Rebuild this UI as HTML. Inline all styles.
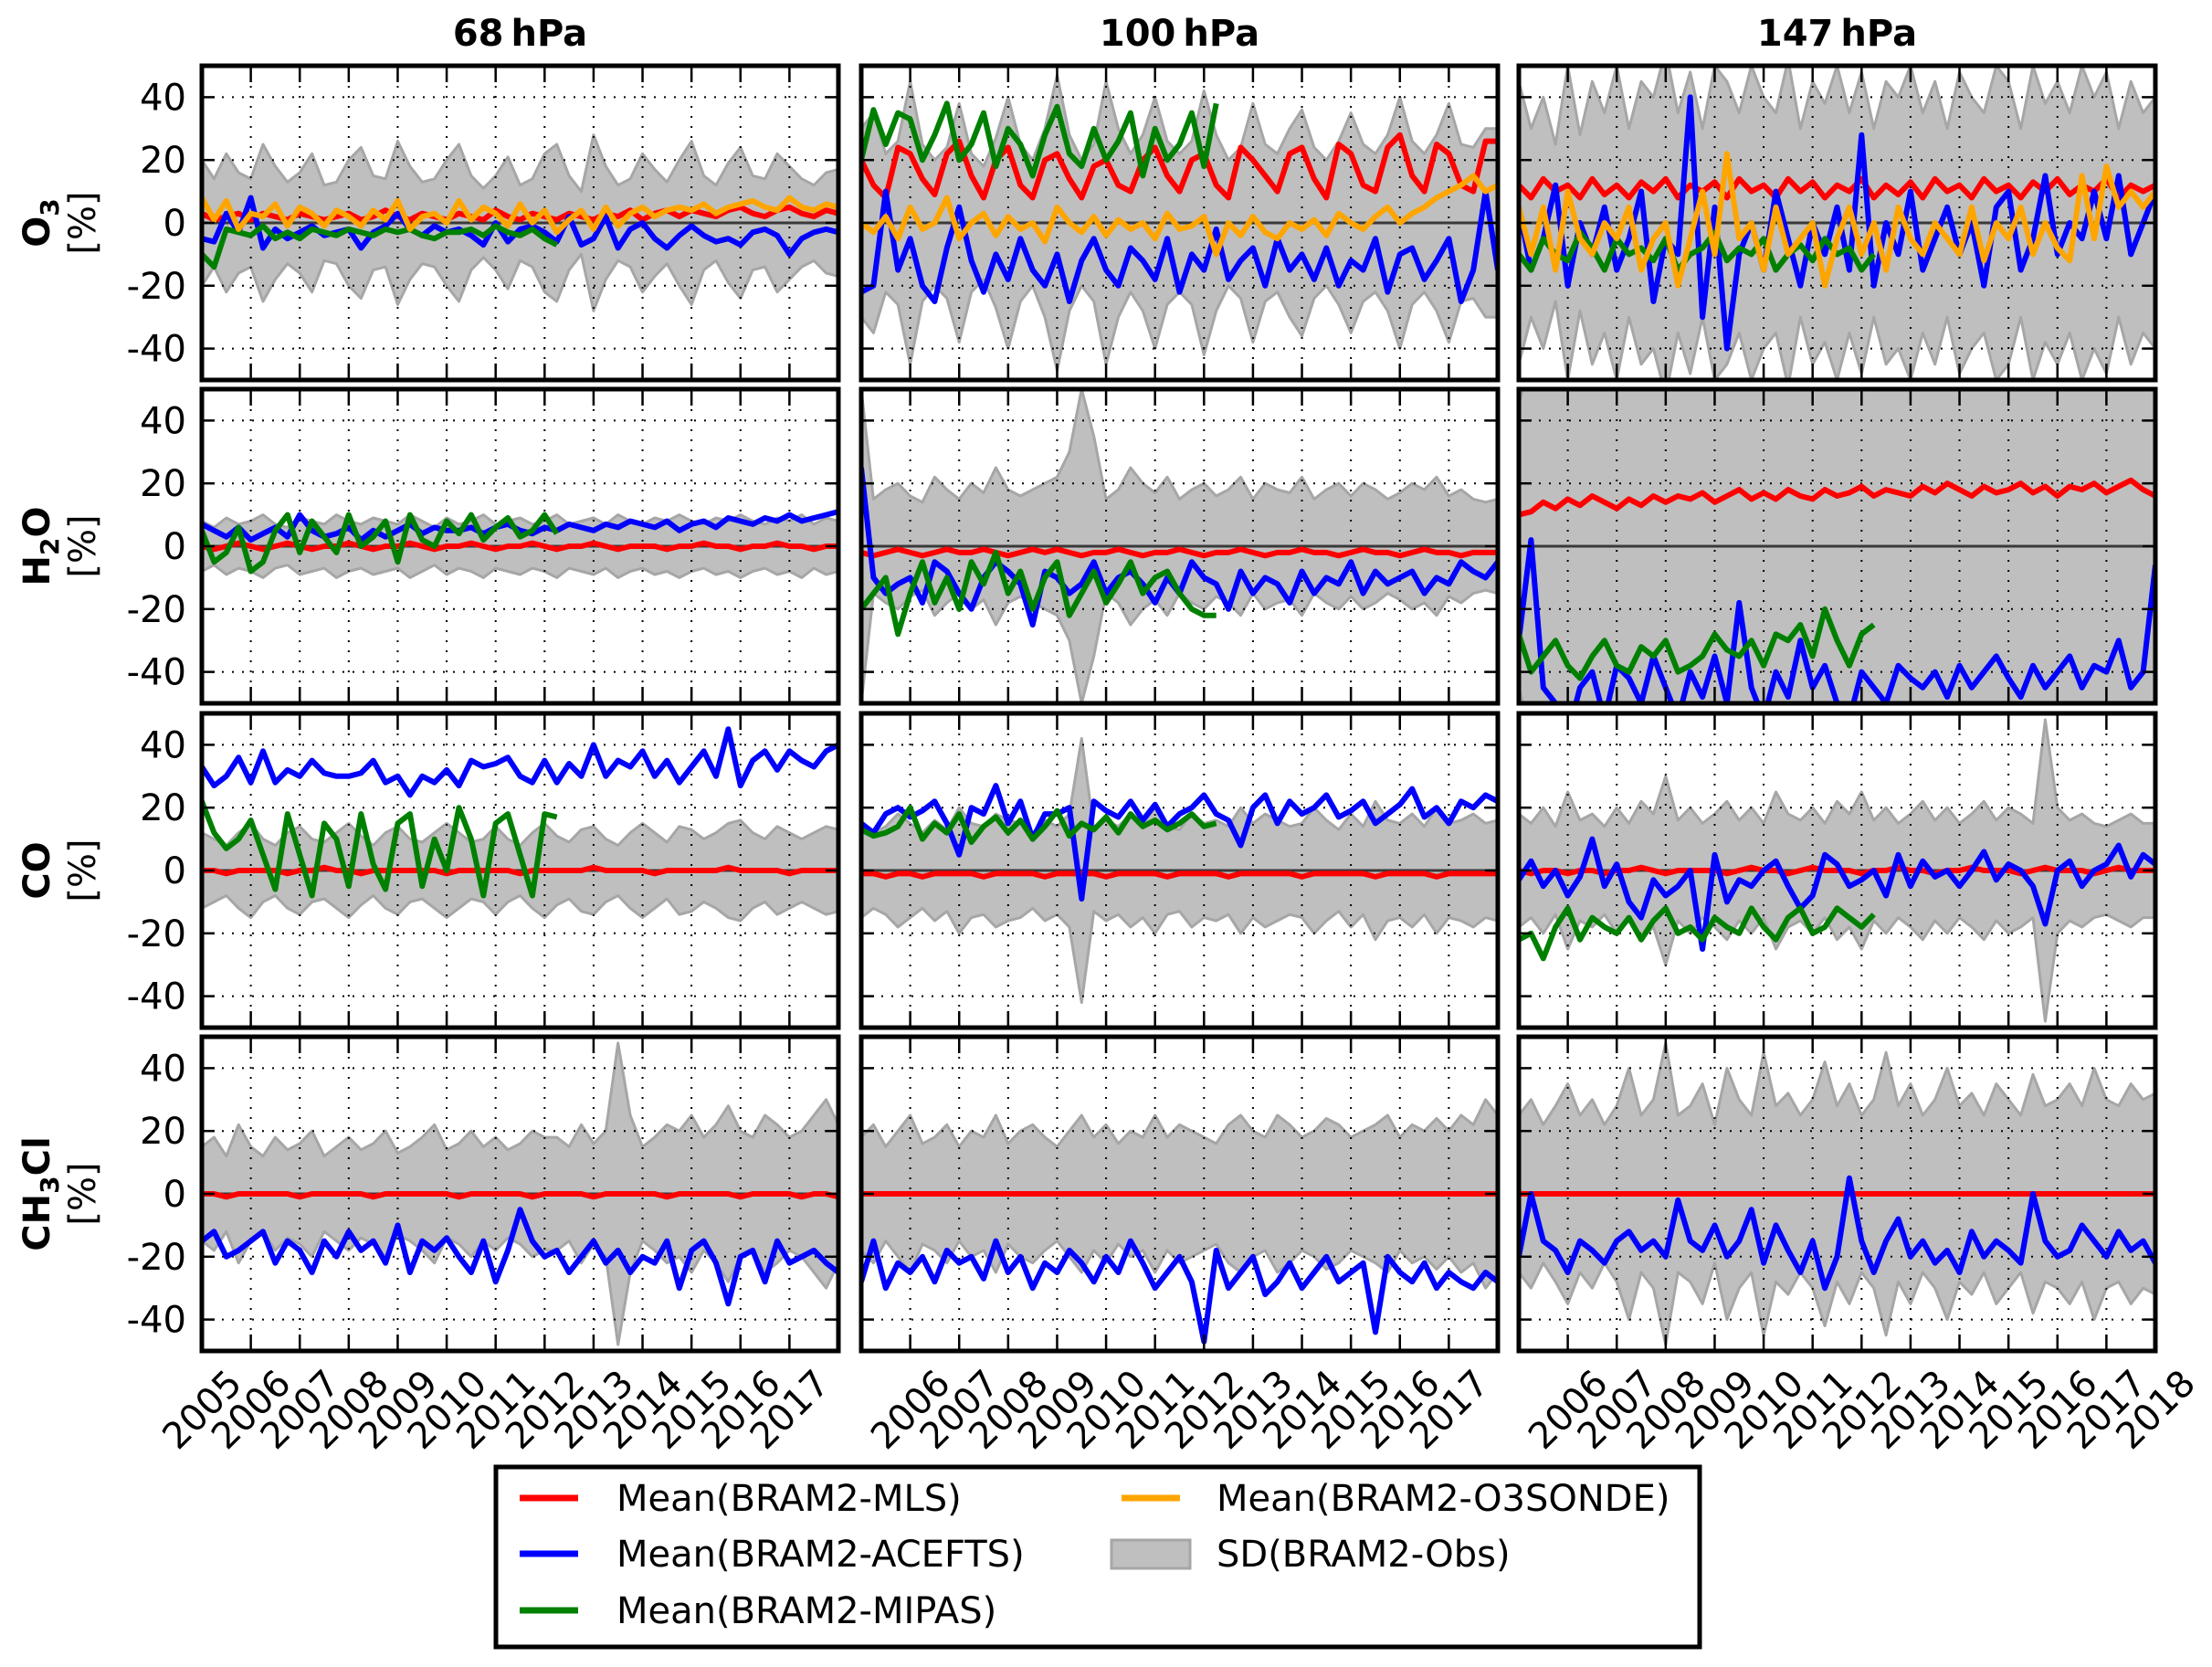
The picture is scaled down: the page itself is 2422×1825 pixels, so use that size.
<!DOCTYPE html>
<html><head><meta charset="utf-8">
<style>
html,body{margin:0;padding:0;background:#fff;}
svg{display:block;font-family:"DejaVu Sans","Liberation Sans",sans-serif;}
</style></head>
<body>
<svg id="chart" xmlns="http://www.w3.org/2000/svg" width="2422" height="1825" viewBox="0 0 2422 1825">
<rect x="0" y="0" width="2422" height="1825" fill="#fff"/>
<g id="panels"></g>
<g id="legend">
  <rect x="543" y="1606" width="1318" height="197" fill="#fff" stroke="#000" stroke-width="5"/>
  <line x1="569" y1="1640" x2="633" y2="1640" stroke="#ff0000" stroke-width="7"/>
  <text x="675" y="1654" font-size="40">Mean(BRAM2-MLS)</text>
  <line x1="569" y1="1701" x2="633" y2="1701" stroke="#0000ff" stroke-width="7"/>
  <text x="675" y="1715" font-size="40">Mean(BRAM2-ACEFTS)</text>
  <line x1="569" y1="1763" x2="633" y2="1763" stroke="#008000" stroke-width="7"/>
  <text x="675" y="1777" font-size="40">Mean(BRAM2-MIPAS)</text>
  <line x1="1228" y1="1640" x2="1292" y2="1640" stroke="#ffa500" stroke-width="7"/>
  <text x="1332" y="1654" font-size="40">Mean(BRAM2-O3SONDE)</text>
  <rect x="1217" y="1686" width="86" height="31" fill="#bfbfbf" stroke="#a6a6a6" stroke-width="3"/>
  <text x="1332" y="1715" font-size="40">SD(BRAM2-Obs)</text>
</g>
</svg>
<script>
// ---- data (quarterly values from 2005.0, step 0.25 yr) ----
const T0 = 2005, STEP = 0.25;
const columnTitles = ["68\u2009hPa", "100\u2009hPa", "147\u2009hPa"];
const rowSpecies = ["O3", "H2O", "CO", "CH3Cl"];
const yTicks = [-40, -20, 0, 20, 40];
const xLabelsCol1 = [2005,2006,2007,2008,2009,2010,2011,2012,2013,2014,2015,2016,2017];
const xLabelsCol2 = [2006,2007,2008,2009,2010,2011,2012,2013,2014,2015,2016,2017];
const xLabelsCol3 = [2006,2007,2008,2009,2010,2011,2012,2013,2014,2015,2016,2017,2018];

// O3 68 hPa
const o3_68_sd = [20,14,22,16,14,25,18,13,16,22,12,13,20,24,15,14,26,18,13,14,20,25,15,11,15,21,12,14,22,25,15,10,28,18,12,14,22,17,13,20,26,15,12,19,24,15,14,22,18,14,12,16,17];
const o3_68_mls = [3,1,2,3,1,3,2,1,3,2,1,2,3,1,2,4,2,1,3,2,1,3,2,1,4,2,1,3,2,1,3,2,1,3,2,4,1,3,4,2,4,3,2,4,5,3,2,4,5,3,2,4,3];
const o3_68_ace = [-5,-6,3,-3,8,-8,-2,-5,-3,-1,-4,-3,-2,-8,-3,-1,3,-2,-4,-1,-3,-2,-4,-7,0,-6,-2,-1,-3,-6,2,-7,-5,2,-8,-2,0,-5,-8,-4,-1,-4,-6,-5,-7,-3,-2,-4,-10,-5,-3,-2,-3];
const o3_68_mip = [-10,-14,-2,-3,-4,-1,-5,-3,-5,-2,-3,-4,-2,-3,-4,-2,-3,-2,-4,-5,-3,-3,-2,-4,-1,-3,-4,-2,-5,-7];
const o3_68_son = [8,1,7,-2,3,2,6,-1,5,3,-1,4,2,-1,4,1,7,-2,2,3,0,7,1,5,3,-1,6,0,4,-3,1,4,-2,5,-1,3,5,2,4,5,4,6,3,5,6,7,5,4,8,5,4,6,5];
// O3 100 hPa
const o3_100_sd = [30,35,22,26,45,25,20,24,38,22,18,27,40,25,20,30,47,28,20,25,45,30,22,28,40,26,22,26,42,28,20,24,38,25,22,30,36,24,20,26,35,25,22,28,40,26,22,28,38,25,24,30,30];
const o3_100_mls = [20,12,8,24,22,14,9,22,26,15,8,20,24,12,8,20,22,14,8,18,20,12,10,20,24,15,10,20,22,12,8,24,20,15,10,22,24,14,8,25,22,12,10,24,28,15,10,25,22,12,10,26,26];
const o3_100_ace = [-22,-20,10,-15,-5,-20,-25,-8,5,-12,-22,-10,-18,-5,-15,-20,-10,-25,-12,-5,-15,-20,-8,-12,-18,-5,-22,-10,-15,-2,-18,-12,-8,-20,-5,-15,-10,-18,-8,-20,-12,-15,-5,-22,-10,-8,-18,-12,-5,-25,-15,10,-15];
const o3_100_mip = [20,36,25,35,33,20,28,38,20,25,35,18,30,25,15,28,37,22,18,30,20,26,35,15,30,20,25,35,18,38];
const o3_100_son = [0,-3,2,-5,5,-2,0,8,-5,0,3,-4,2,-2,0,-6,5,0,-3,2,-4,1,-2,0,-5,3,-2,-1,2,-10,0,-4,2,-3,-5,0,-2,1,-4,3,0,-2,2,5,0,3,5,8,10,12,15,10,12];
// O3 147 hPa
const o3_147_sd = [45,30,40,25,50,28,45,35,50,30,45,40,55,35,48,30,50,45,35,50,40,35,52,30,45,38,50,35,48,30,45,40,50,35,45,30,48,40,35,50,45,30,50,38,45,35,50,40,48,30,45,35,40];
const o3_147_mls = [12,8,14,10,12,8,14,9,12,8,13,10,14,8,12,10,13,8,14,10,12,8,14,10,13,8,12,10,14,8,12,9,13,8,14,10,12,8,14,10,12,8,13,10,14,9,12,10,14,8,12,10,12];
const o3_147_ace = [5,-15,-5,12,-20,0,-10,5,-15,-5,10,-25,-5,-10,40,-30,5,-40,-10,0,-15,10,-5,-20,0,-10,5,-15,28,-20,0,-10,10,-15,-5,5,-10,0,-20,5,10,-15,-5,15,-10,0,-5,10,-5,15,-10,0,10];
const o3_147_mip = [-10,-15,-5,-10,-12,-3,-8,-15,-5,-10,-8,-12,-5,-15,-10,-8,-3,-12,-8,-10,-5,-15,-10,-7,-12,-5,-10,-8,-15,-10];
const o3_147_son = [5,-10,5,-15,10,-5,-10,0,-5,5,-15,-5,0,-20,-5,10,-10,22,-5,0,-15,5,-10,-5,0,-20,-5,5,-10,0,-15,5,-5,-10,0,-5,-10,5,-12,0,-5,5,-10,0,-8,-12,15,-5,18,5,10,5,10];
// H2O 68 hPa
const h2o_68_sd = [8,6,9,7,8,10,7,6,9,8,7,10,8,7,9,8,7,10,8,6,9,7,8,10,7,8,9,7,8,10,7,8,9,7,10,8,7,9,8,10,8,7,9,8,10,8,7,9,8,10,7,9,8];
const h2o_68_mls = [0,-1,0,1,0,-1,0,1,0,-1,0,0,1,0,-1,0,0,1,0,-1,0,0,1,0,-1,0,0,1,0,-1,0,0,1,0,-1,0,0,0,-1,0,0,1,0,0,-1,0,0,1,0,0,-1,0,0];
const h2o_68_ace = [7,5,3,6,2,4,6,3,10,5,3,4,6,2,5,3,5,7,4,6,5,5,6,4,6,7,5,4,6,5,7,6,5,7,6,8,7,6,8,5,7,8,6,9,8,7,9,8,10,8,9,10,11];
const h2o_68_mip = [5,-5,-2,6,-8,-5,5,10,-2,8,3,-2,10,0,3,8,-5,10,2,0,8,4,10,2,6,9,3,5,10,4];
// H2O 100 hPa
const h2o_100_sd = [50,15,18,20,16,14,22,18,15,20,17,25,18,16,18,20,22,30,50,35,15,18,25,20,17,22,15,18,20,16,18,22,15,20,18,17,22,15,18,20,16,20,18,15,17,20,18,22,16,18,15,14,15];
const h2o_100_mls = [-2,-3,-2,-1,-2,-3,-2,-1,-2,-2,-1,-2,-3,-2,-1,-2,-1,-2,-3,-2,-2,-1,-2,-3,-2,-2,-1,-2,-3,-2,-2,-1,-2,-3,-2,-2,-1,-2,-2,-3,-2,-1,-2,-2,-3,-2,-1,-2,-2,-3,-2,-2,-2];
const h2o_100_ace = [25,-10,-15,-12,-10,-18,-5,-8,-15,-20,-10,-5,-8,-12,-25,-8,-10,-15,-12,-5,-15,-10,-8,-12,-18,-10,-15,-5,-10,-12,-20,-8,-15,-10,-12,-18,-8,-15,-10,-12,-5,-15,-8,-12,-10,-8,-15,-10,-12,-5,-8,-10,-5];
const h2o_100_mip = [-20,-15,-10,-28,-15,-5,-18,-10,-20,-5,-12,-2,-15,-8,-20,-10,-5,-22,-15,-8,-18,-12,-5,-15,-10,-8,-15,-20,-22,-22];
// H2O 147 hPa
const h2o_147_sd = [45,60,55,60,50,60,58,60,55,60,60,60,60,60,60,60,60,60,60,60,60,55,60,60,60,60,60,60,60,60,60,60,60,60,60,60,60,60,60,60,60,60,60,60,60,60,60,60,60,60,60,60,60];
const h2o_147_mls = [10,11,14,12,15,13,16,14,12,15,13,16,14,16,15,17,14,16,18,15,17,15,18,16,15,18,16,17,19,16,18,17,16,19,17,20,18,16,19,17,18,20,17,19,16,19,18,20,17,19,21,18,16];
const h2o_147_ace = [-30,2,-45,-50,-60,-45,-40,-55,-38,-42,-50,-35,-45,-55,-40,-48,-35,-50,-18,-45,-55,-40,-48,-30,-45,-38,-50,-55,-40,-45,-50,-38,-42,-45,-40,-48,-38,-45,-40,-35,-42,-48,-38,-45,-40,-35,-45,-38,-40,-30,-45,-40,-6];
const h2o_147_mip = [-28,-40,-35,-30,-38,-42,-35,-30,-38,-40,-32,-35,-30,-40,-38,-35,-28,-33,-35,-30,-38,-28,-30,-25,-35,-20,-30,-38,-28,-25];
// CO 68 hPa
const co_68_sd = [12,10,8,12,15,10,8,12,14,10,9,12,15,11,8,12,14,10,9,12,15,12,9,10,14,10,8,12,15,11,9,13,14,10,8,12,15,12,9,14,13,10,12,15,16,12,10,14,12,10,12,14,13];
const co_68_mls = [0,0,-1,0,0,0,0,-1,0,0,1,0,0,-1,0,0,0,0,0,0,-1,0,0,0,0,0,-1,0,0,0,0,0,1,0,0,0,0,-1,0,0,0,0,0,1,0,0,0,0,-1,0,0,0,0];
const co_68_ace = [33,27,30,36,28,38,28,32,30,35,31,30,30,31,35,28,30,24,30,28,32,27,35,33,34,36,30,28,35,28,34,30,40,30,35,33,38,30,35,28,33,38,30,45,27,35,38,32,38,35,33,38,40];
const co_68_mip = [22,12,7,10,16,5,-6,18,5,-8,15,10,-5,18,2,-6,15,18,-5,10,0,20,10,-8,15,18,5,-8,18,17];
// CO 100 hPa
const co_100_sd = [15,12,14,18,15,12,16,13,20,15,14,18,16,15,12,16,14,18,42,13,16,14,18,15,20,14,13,18,15,16,14,20,15,18,16,14,15,20,16,13,18,14,22,16,15,18,14,20,15,16,18,15,16];
const co_100_mls = [-1,-1,-2,-1,-1,-2,-1,-1,-1,-1,-2,-1,-1,-1,-1,-2,-1,-1,-1,-1,-2,-1,-1,-1,-1,-2,-1,-1,-1,-1,-2,-1,-1,-1,-1,-1,-2,-1,-1,-1,-1,-1,-2,-1,-1,-1,-1,-2,-1,-1,-1,-1,-1];
const co_100_ace = [15,12,18,20,17,19,22,15,5,20,18,27,15,22,10,18,18,20,-9,22,19,17,22,16,21,14,18,20,24,18,16,8,20,24,15,22,18,20,24,17,19,22,15,18,21,26,17,20,15,22,20,24,22];
const co_100_mip = [13,11,12,14,20,10,15,12,18,9,14,17,12,16,10,14,19,11,15,13,17,12,18,14,16,13,15,18,14,15];
// CO 147 hPa
const co_147_sd = [18,15,20,14,25,16,18,14,20,15,22,18,30,16,20,15,18,22,16,20,15,25,18,16,20,15,22,18,25,16,20,15,18,22,16,20,15,18,22,16,20,18,15,48,20,16,18,15,14,16,18,15,15];
const co_147_mls = [0,-1,0,0,-1,0,0,-1,0,0,1,0,-1,0,0,0,0,-1,0,1,0,0,-1,0,1,0,0,0,-1,0,0,1,0,0,-1,0,0,1,0,0,0,-1,0,1,0,0,0,-1,0,1,0,0,0];
const co_147_ace = [-3,3,-5,0,-8,-2,10,-5,2,-10,-15,-3,-8,-5,0,-25,5,-10,-3,-5,0,3,-5,-12,-8,5,2,-5,-3,0,-8,5,-5,3,-2,0,-5,0,6,-3,2,0,-5,-17,0,3,-5,0,2,8,-2,5,2];
const co_147_mip = [-22,-20,-28,-18,-12,-22,-15,-18,-20,-15,-22,-16,-12,-20,-18,-22,-15,-18,-20,-12,-18,-22,-15,-12,-20,-18,-12,-15,-18,-14];
// CH3Cl 68 hPa
const ch3cl_68_sd = [15,18,12,22,15,12,18,14,16,20,12,15,18,14,16,20,13,15,18,22,14,16,20,15,18,14,16,20,18,18,15,22,16,20,48,25,15,18,22,20,25,18,22,28,20,18,25,22,18,20,25,30,22];
const ch3cl_68_mls = [0,0,-1,0,0,0,0,0,-1,0,0,0,0,0,-1,0,0,0,0,0,0,-1,0,0,0,0,0,-1,0,0,0,0,-1,0,0,0,0,0,-1,0,0,0,0,0,-1,0,0,0,0,-1,0,0,-1];
const ch3cl_68_ace = [-15,-12,-20,-18,-15,-12,-22,-15,-18,-25,-15,-20,-12,-18,-15,-22,-10,-25,-15,-18,-14,-20,-25,-15,-28,-18,-5,-15,-20,-18,-25,-20,-15,-22,-18,-25,-20,-22,-15,-30,-18,-15,-22,-35,-20,-18,-28,-15,-22,-20,-18,-22,-25];
// CH3Cl 100 hPa
const ch3cl_100_sd = [18,22,15,20,25,16,18,22,15,20,18,25,16,20,22,18,15,20,25,18,22,16,20,18,25,18,22,20,18,16,22,25,20,18,25,22,18,20,24,22,18,20,22,25,18,22,20,24,20,25,22,30,25];
const ch3cl_100_mls = [0,0,0,0,0,0,0,0,0,0,0,0,0,0,0,0,0,0,0,0,0,0,0,0,0,0,0,0,0,0,0,0,0,0,0,0,0,0,0,0,0,0,0,0,0,0,0,0,0,0,0,0,0];
const ch3cl_100_ace = [-28,-15,-30,-22,-25,-20,-28,-18,-22,-20,-27,-15,-25,-20,-30,-22,-25,-18,-22,-28,-20,-25,-15,-22,-30,-25,-20,-28,-47,-18,-30,-25,-20,-32,-28,-22,-30,-25,-20,-28,-25,-22,-44,-20,-25,-28,-22,-30,-25,-28,-30,-25,-28];
// CH3Cl 147 hPa
const ch3cl_147_sd = [25,30,22,28,35,25,30,22,28,40,25,30,48,25,28,35,22,40,30,25,45,28,32,25,30,42,28,35,25,30,45,28,35,25,30,40,28,32,25,35,30,25,38,28,30,35,28,40,30,28,35,30,32];
const ch3cl_147_mls = [0,0,0,0,0,0,0,0,0,0,0,0,0,0,0,0,0,0,0,0,0,0,0,0,0,0,0,0,0,0,0,0,0,0,0,0,0,0,0,0,0,0,0,0,0,0,0,0,0,0,0,0,0];
const ch3cl_147_ace = [-20,0,-15,-18,-25,-15,-18,-22,-15,-12,-18,-15,-20,-2,-15,-18,-10,-20,-15,-5,-22,-10,-18,-25,-15,-30,-20,5,-15,-25,-15,-8,-20,-15,-22,-18,-25,-12,-20,-15,-18,-22,0,-15,-20,-18,-10,-15,-20,-12,-18,-15,-22];

const panelData = [
  [{sd:o3_68_sd,mls:o3_68_mls,ace:o3_68_ace,mip:o3_68_mip,son:o3_68_son},
   {sd:o3_100_sd,mls:o3_100_mls,ace:o3_100_ace,mip:o3_100_mip,son:o3_100_son},
   {sd:o3_147_sd,mls:o3_147_mls,ace:o3_147_ace,mip:o3_147_mip,son:o3_147_son}],
  [{sd:h2o_68_sd,mls:h2o_68_mls,ace:h2o_68_ace,mip:h2o_68_mip},
   {sd:h2o_100_sd,mls:h2o_100_mls,ace:h2o_100_ace,mip:h2o_100_mip},
   {sd:h2o_147_sd,mls:h2o_147_mls,ace:h2o_147_ace,mip:h2o_147_mip}],
  [{sd:co_68_sd,mls:co_68_mls,ace:co_68_ace,mip:co_68_mip},
   {sd:co_100_sd,mls:co_100_mls,ace:co_100_ace,mip:co_100_mip},
   {sd:co_147_sd,mls:co_147_mls,ace:co_147_ace,mip:co_147_mip}],
  [{sd:ch3cl_68_sd,mls:ch3cl_68_mls,ace:ch3cl_68_ace},
   {sd:ch3cl_100_sd,mls:ch3cl_100_mls,ace:ch3cl_100_ace},
   {sd:ch3cl_147_sd,mls:ch3cl_147_mls,ace:ch3cl_147_ace}]
];

// ---- layout ----
const NS = "http://www.w3.org/2000/svg";
const colX = [221, 943, 1663], PW = 697;
const rowY = [72, 426, 781, 1135], PH = 344;
const X0 = 2005, X1 = 2018, Y0 = -50, Y1 = 50;
const root = document.getElementById('panels');
function mk(tag, attrs, parent) {
  const e = document.createElementNS(NS, tag);
  for (const k in attrs) e.setAttribute(k, attrs[k]);
  (parent || root).appendChild(e);
  return e;
}
const seriesStyle = {mls:"#ff0000", ace:"#0000ff", mip:"#008000", son:"#ffa500"};
const seriesNames = {mls:"mls-line", ace:"acefts-line", mip:"mipas-line", son:"o3sonde-line"};
const xLabelSets = [xLabelsCol1, xLabelsCol2, xLabelsCol3];

for (let r = 0; r < 4; r++) {
  for (let c = 0; c < 3; c++) {
    const px = colX[c], py = rowY[r];
    const sx = v => px + (v - X0) / (X1 - X0) * PW;
    const sy = v => py + (Y1 - v) / (Y1 - Y0) * PH;
    const tOf = i => T0 + i * STEP;
    const g = mk('g', {});
    
    
    const cid = 'clip' + r + c;
    const cp = mk('clipPath', {id: cid}, g);
    mk('rect', {x: px, y: py, width: PW, height: PH}, cp);
    const inner = mk('g', {'clip-path': 'url(#' + cid + ')'}, g);
    
    
    const d = panelData[r][c];
    let up = [], lo = [];
    d.sd.forEach((v, i) => { up.push(sx(tOf(i)).toFixed(1) + ',' + sy(v).toFixed(1)); lo.push(sx(tOf(i)).toFixed(1) + ',' + sy(-v).toFixed(1)); });
    const band = mk('polygon', {points: up.concat(lo.reverse()).join(' '), fill: '#bfbfbf', stroke: '#a6a6a6', 'stroke-width': 3, 'stroke-linejoin': 'round'}, inner);
    
    
    for (let yv of yTicks) {
      if (yv === 0) continue;
      const gl = mk('line', {x1: px, x2: px + PW, y1: sy(yv), y2: sy(yv), stroke: '#000', 'stroke-width': 2, 'stroke-dasharray': '2,9'}, inner);
      
      
    }
    for (let yr = X0 + 1; yr < X1; yr++) {
      const gl = mk('line', {x1: sx(yr), x2: sx(yr), y1: py, y2: py + PH, stroke: '#000', 'stroke-width': 2, 'stroke-dasharray': '2,9'}, inner);
      
      
    }
    const zl = mk('line', {x1: px, x2: px + PW, y1: sy(0), y2: sy(0), stroke: '#3a3a3a', 'stroke-width': 3}, inner);
    
    
    for (const k of ['mls', 'ace', 'mip', 'son']) {
      if (!d[k]) continue;
      const pts = d[k].map((v, i) => sx(tOf(i)).toFixed(1) + ',' + sy(v).toFixed(1)).join(' ');
      const pl = mk('polyline', {points: pts, fill: 'none', stroke: seriesStyle[k], 'stroke-width': 6, 'stroke-linejoin': 'round'}, inner);
      
      
    }
    for (let yr = X0 + 1; yr < X1; yr++) {
      mk('line', {x1: sx(yr), x2: sx(yr), y1: py + PH, y2: py + PH - 18, stroke: '#000', 'stroke-width': 2.5}, g);
      mk('line', {x1: sx(yr), x2: sx(yr), y1: py, y2: py + 18, stroke: '#000', 'stroke-width': 2.5}, g);
    }
    for (let yv of yTicks) {
      mk('line', {x1: px, x2: px + 14, y1: sy(yv), y2: sy(yv), stroke: '#000', 'stroke-width': 2.5}, g);
      mk('line', {x1: px + PW - 14, x2: px + PW, y1: sy(yv), y2: sy(yv), stroke: '#000', 'stroke-width': 2.5}, g);
    }
    const fr = mk('rect', {x: px, y: py, width: PW, height: PH, fill: 'none', stroke: '#000', 'stroke-width': 5}, g);
    
    
    if (c === 0) {
      for (let yv of yTicks) {
        const tl = mk('text', {x: 204, y: sy(yv) + 14, 'font-size': 40, 'text-anchor': 'end'}, g);
        tl.textContent = String(yv);
        
        
      }
    }
    if (r === 3) {
      for (let yr of xLabelSets[c]) {
        const cx = sx(yr), cy = 1543;
        const tl = mk('text', {x: cx, y: cy + 14, 'font-size': 40, 'text-anchor': 'middle', transform: 'rotate(-45 ' + cx + ' ' + cy + ')'}, g);
        tl.textContent = String(yr);
        
        
      }
    }
    if (r === 0) {
      const tt = mk('text', {x: px + PW / 2, y: 50, 'font-size': 40, 'font-weight': 'bold', 'text-anchor': 'middle'}, g);
      tt.textContent = columnTitles[c];
      
      
    }
  }
}
const rowLabelHTML = [
  ['O', '3', ''], ['H', '2', 'O'], ['CO', '', ''], ['CH', '3', 'Cl']
];
for (let r = 0; r < 4; r++) {
  const cy = rowY[r] + PH / 2;
  const t = mk('text', {x: 0, y: 0, 'font-size': 40, 'font-weight': 'bold', 'text-anchor': 'middle', transform: 'translate(54 ' + cy + ') rotate(-90)'});
  
  
  const [a, b, cc] = rowLabelHTML[r];
  const s1 = mk('tspan', {}, t); s1.textContent = a;
  if (b) { const s2 = mk('tspan', {dy: 10, 'font-size': 28}, t); s2.textContent = b; }
  if (cc) { const s3 = mk('tspan', {dy: -10}, t); s3.textContent = cc; }
  const u = mk('text', {x: 0, y: 0, 'font-size': 40, 'text-anchor': 'middle', transform: 'translate(104 ' + cy + ') rotate(-90)'});
  u.textContent = '[%]';
  
  
}
</script>
</body></html>
